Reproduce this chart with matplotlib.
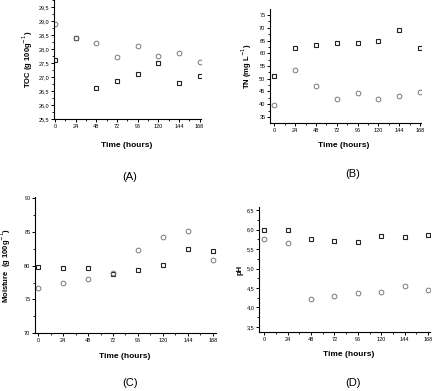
import matplotlib
matplotlib.use("Agg")
import matplotlib.pyplot as plt
from matplotlib.ticker import FuncFormatter, MultipleLocator

plt.rcParams["font.family"] = ["Liberation Sans", "DejaVu Sans"]

hours = [0, 24, 48, 72, 96, 120, 144, 168]

toc_sq = [27.6, 28.38, 26.6, 26.87, 27.1, 27.5, 26.8, 27.03]
toc_ci = [28.9, 28.4, 28.2, 27.7, 28.1, 27.75, 27.85, 27.55]

tn_sq = [51.0, 62.0, 63.2, 64.2, 64.2, 64.7, 69.2, 62.2]
tn_ci = [39.5, 53.3, 47.2, 42.0, 44.2, 42.2, 43.3, 44.6]

moist_sq = [79.8, 79.7, 79.6, 78.7, 79.4, 80.1, 82.5, 82.2]
moist_ci = [76.7, 77.5, 78.0, 78.9, 82.3, 84.3, 85.1, 80.8]

ph_sq = [5.98, 5.99, 5.75, 5.70, 5.67, 5.84, 5.82, 5.85]
ph_ci = [5.76, 5.66, 4.23, 4.30, 4.38, 4.40, 4.56, 4.45]

W, H = 432, 391
fig = plt.figure(figsize=(W / 100, H / 100), dpi=100)

def ax_px(l, t, r, b):
    return fig.add_axes([l / W, 1 - b / H, (r - l) / W, (b - t) / H])

panels = [
    dict(box=(54, 0, 201, 119), xlim=(-1.2, 169.5), ylim=(25.5, 29.75), yt=[25.5 + 0.5 * i for i in range(9)],
         ymin=0.25, fmt=1, sq=toc_sq, ci=toc_ci, ylab="TOC (g 100g$^{-1}$)", ylx=35,
         tl=(127, 145), pl="(A)", pp=(130, 177)),
    dict(box=(270, 9, 421, 123), xlim=(-5, 169), ylim=(32.6, 77.4), yt=[35 + 5 * i for i in range(9)],
         ymin=2.5, fmt=0, sq=tn_sq, ci=tn_ci, ylab="TN (mg L$^{-1}$)", ylx=254,
         tl=(344, 145), pl="(B)", pp=(353, 174)),
    dict(box=(35, 197, 216, 333), xlim=(-3, 171), ylim=(70, 90.2), yt=[70, 75, 80, 85, 90],
         ymin=2.5, fmt=0, sq=moist_sq, ci=moist_ci, ylab="Moisture  (g 100g$^{-1}$)", ylx=13,
         tl=(125, 356), pl="(C)", pp=(130, 383)),
    dict(box=(259, 207, 430, 332), xlim=(-5.4, 170), ylim=(3.37, 6.58), yt=[3.5 + 0.5 * i for i in range(7)],
         ymin=0.25, fmt=1, sq=ph_sq, ci=ph_ci, ylab="pH", ylx=244,
         tl=(349, 354), pl="(D)", pp=(353, 383)),
]

for p in panels:
    ax = ax_px(*p["box"])
    ax.plot(hours, p["sq"], ls="none", marker="s", ms=3.2, mfc="none", mec="#222222", mew=0.8)
    ax.plot(hours, p["ci"], ls="none", marker="o", ms=3.4, mfc="none", mec="#777777", mew=0.7)
    ax.set_xlim(*p["xlim"])
    ax.set_ylim(*p["ylim"])
    ax.set_xticks(hours)
    ax.xaxis.set_minor_locator(MultipleLocator(12))
    ax.set_yticks(p["yt"])
    ax.yaxis.set_minor_locator(MultipleLocator(p["ymin"]))
    if p["fmt"]:
        ax.yaxis.set_major_formatter(FuncFormatter(lambda v, pos: f"{v:.1f}".replace(".", ",")))
    else:
        ax.yaxis.set_major_formatter(FuncFormatter(lambda v, pos: f"{v:.0f}"))
    for s in ("top", "right"):
        ax.spines[s].set_visible(False)
    for s in ("left", "bottom"):
        ax.spines[s].set_linewidth(0.8)
    ax.tick_params(which="major", direction="out", length=2.5, width=0.7, labelsize=4, pad=0.8)
    ax.tick_params(which="minor", direction="out", length=1.4, width=0.6)
    ax.set_ylabel(p["ylab"], fontsize=5.5, fontweight="bold")
    ax.yaxis.set_label_coords((p["ylx"] - p["box"][0]) / (p["box"][2] - p["box"][0]), 0.5)
    fig.text(p["tl"][0] / W, 1 - p["tl"][1] / H, "Time (hours)", fontsize=6, fontweight="bold",
             ha="center", va="center")
    fig.text(p["pp"][0] / W, 1 - p["pp"][1] / H, p["pl"], fontsize=8, ha="center", va="center")

fig.savefig("out.png", dpi=100)
